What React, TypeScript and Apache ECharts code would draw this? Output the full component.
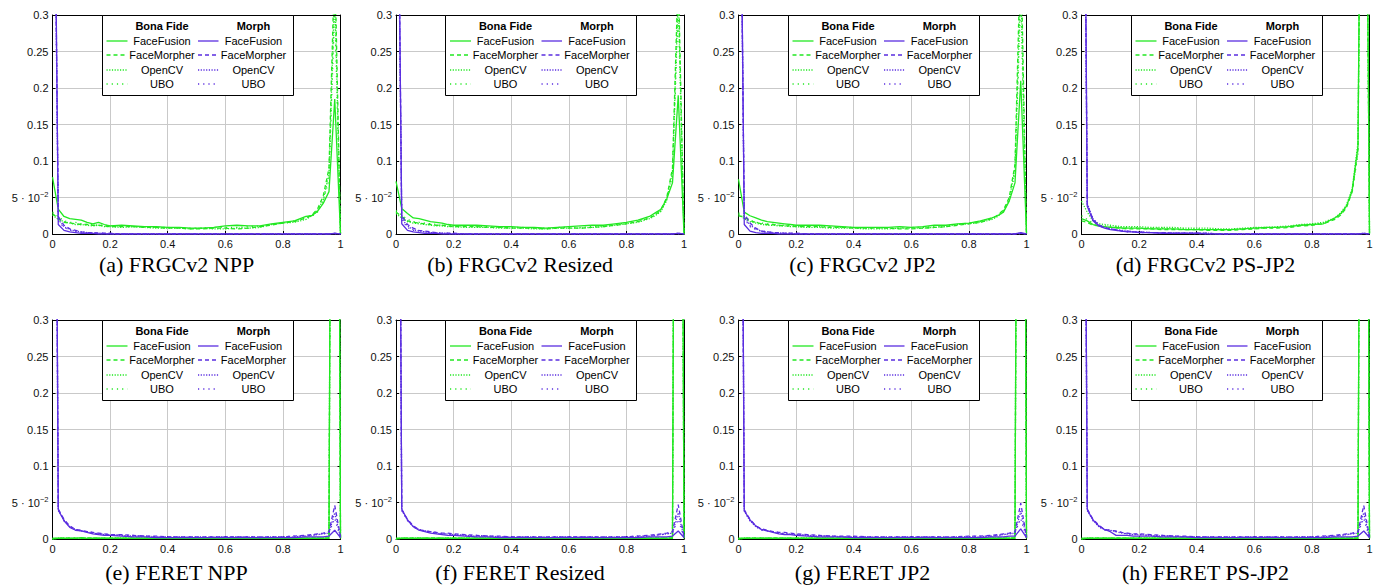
import React, { useEffect, useRef } from "react";
import * as echarts from "echarts";

// ---------- DATA ----------
const X = [
  0, 0.02, 0.04, 0.06, 0.08, 0.1, 0.12, 0.14, 0.16, 0.18,
  0.2, 0.24, 0.28, 0.32, 0.36, 0.4, 0.44, 0.48, 0.52, 0.56,
  0.6, 0.64, 0.68, 0.72, 0.76, 0.8, 0.84, 0.88, 0.9, 0.92,
  0.94, 0.96, 0.98, 1,
];

const CAPTIONS = [
  "(a) FRGCv2 NPP", "(b) FRGCv2 Resized", "(c) FRGCv2 JP2", "(d) FRGCv2 PS-JP2",
  "(e) FERET NPP", "(f) FERET Resized", "(g) FERET JP2", "(h) FERET PS-JP2",
];
const METHODS = ["FaceFusion", "FaceMorpher", "OpenCV", "UBO"];
const GROUPS = ["Bona Fide", "Morph"];
const X_TICKS = [0, 0.2, 0.4, 0.6, 0.8, 1];
const Y_TICKS = [0, 0.05, 0.1, 0.15, 0.2, 0.25, 0.3];

// (a) FRGCv2 NPP
const aBonaFusion = [
  0.078, 0.034, 0.024, 0.021, 0.020, 0.019, 0.016, 0.014, 0.016, 0.013,
  0.011, 0.012, 0.011, 0.010, 0.010, 0.009, 0.009, 0.008, 0.008, 0.009,
  0.011, 0.012, 0.011, 0.011, 0.014, 0.016, 0.018, 0.024, 0.025, 0.031,
  0.042, 0.058, 0.185, 0.000];
const aBonaMorpher = [
  0.028, 0.021, 0.016, 0.015, 0.014, 0.013, 0.013, 0.012, 0.012, 0.011,
  0.010, 0.010, 0.010, 0.009, 0.009, 0.008, 0.008, 0.007, 0.007, 0.008,
  0.008, 0.007, 0.008, 0.010, 0.012, 0.015, 0.017, 0.022, 0.026, 0.034,
  0.052, 0.090, 0.380, 0.000];
const aBonaOpenCV = [
  0.026, 0.020, 0.017, 0.015, 0.013, 0.013, 0.012, 0.011, 0.012, 0.010,
  0.010, 0.009, 0.010, 0.009, 0.008, 0.008, 0.008, 0.007, 0.008, 0.007,
  0.007, 0.008, 0.008, 0.009, 0.013, 0.015, 0.016, 0.020, 0.025, 0.032,
  0.047, 0.082, 0.340, 0.000];
const aBonaUBO = [
  0.030, 0.024, 0.018, 0.016, 0.016, 0.014, 0.013, 0.013, 0.012, 0.012,
  0.011, 0.011, 0.010, 0.010, 0.009, 0.009, 0.008, 0.008, 0.008, 0.009,
  0.009, 0.009, 0.010, 0.011, 0.013, 0.015, 0.018, 0.022, 0.024, 0.030,
  0.045, 0.075, 0.310, 0.000];
const aMorphFusion = [
  0.850, 0.013, 0.005, 0.003, 0.002, 0.001, 0.001, 0.001, 0.000, 0.000,
  0.000, 0.000, 0.000, 0.000, 0.000, 0.000, 0.000, 0.000, 0.000, 0.000,
  0.000, 0.000, 0.000, 0.000, 0.000, 0.000, 0.000, 0.000, 0.000, 0.000,
  0.000, 0.000, 0.001, 0.000];
const aMorphMorpher = [
  0.800, 0.024, 0.012, 0.007, 0.005, 0.003, 0.002, 0.002, 0.001, 0.001,
  0.001, 0.000, 0.000, 0.000, 0.000, 0.000, 0.000, 0.000, 0.000, 0.000,
  0.000, 0.000, 0.000, 0.000, 0.000, 0.000, 0.000, 0.000, 0.000, 0.000,
  0.000, 0.000, 0.001, 0.000];
const aMorphOpenCV = [
  0.760, 0.020, 0.010, 0.006, 0.004, 0.003, 0.002, 0.001, 0.001, 0.001,
  0.000, 0.000, 0.000, 0.000, 0.000, 0.000, 0.000, 0.000, 0.000, 0.000,
  0.000, 0.000, 0.000, 0.000, 0.000, 0.000, 0.000, 0.000, 0.000, 0.000,
  0.000, 0.000, 0.001, 0.000];
const aMorphUBO = [
  0.780, 0.018, 0.009, 0.005, 0.004, 0.002, 0.002, 0.001, 0.001, 0.000,
  0.000, 0.000, 0.000, 0.000, 0.000, 0.000, 0.000, 0.000, 0.000, 0.000,
  0.000, 0.000, 0.000, 0.000, 0.000, 0.000, 0.000, 0.000, 0.000, 0.000,
  0.000, 0.000, 0.000, 0.000];

// (b) FRGCv2 Resized
const bBonaFusion = [
  0.072, 0.035, 0.028, 0.022, 0.021, 0.019, 0.017, 0.016, 0.015, 0.013,
  0.012, 0.012, 0.012, 0.011, 0.010, 0.010, 0.009, 0.009, 0.008, 0.009,
  0.010, 0.011, 0.012, 0.012, 0.014, 0.016, 0.019, 0.024, 0.029, 0.034,
  0.048, 0.070, 0.190, 0.000];
const bBonaMorpher = [
  0.030, 0.024, 0.018, 0.016, 0.015, 0.014, 0.013, 0.012, 0.012, 0.011,
  0.010, 0.010, 0.010, 0.009, 0.009, 0.008, 0.008, 0.008, 0.007, 0.008,
  0.008, 0.008, 0.009, 0.010, 0.012, 0.014, 0.017, 0.022, 0.026, 0.033,
  0.050, 0.090, 0.360, 0.000];
const bBonaOpenCV = [
  0.028, 0.022, 0.017, 0.015, 0.014, 0.013, 0.012, 0.011, 0.011, 0.010,
  0.010, 0.009, 0.009, 0.009, 0.008, 0.008, 0.008, 0.007, 0.007, 0.008,
  0.008, 0.008, 0.009, 0.010, 0.012, 0.014, 0.016, 0.021, 0.025, 0.031,
  0.046, 0.085, 0.330, 0.000];
const bBonaUBO = [
  0.032, 0.026, 0.020, 0.017, 0.016, 0.015, 0.014, 0.013, 0.012, 0.012,
  0.011, 0.011, 0.010, 0.010, 0.009, 0.009, 0.009, 0.008, 0.008, 0.009,
  0.009, 0.009, 0.010, 0.011, 0.013, 0.015, 0.018, 0.023, 0.027, 0.032,
  0.047, 0.080, 0.310, 0.000];
const bMorphFusion = [
  0.820, 0.014, 0.005, 0.003, 0.002, 0.001, 0.001, 0.001, 0.000, 0.000,
  0.000, 0.000, 0.000, 0.000, 0.000, 0.000, 0.000, 0.000, 0.000, 0.000,
  0.000, 0.000, 0.000, 0.000, 0.000, 0.000, 0.000, 0.000, 0.000, 0.000,
  0.000, 0.000, 0.001, 0.000];
const bMorphMorpher = [
  0.780, 0.025, 0.013, 0.008, 0.005, 0.004, 0.003, 0.002, 0.001, 0.001,
  0.001, 0.000, 0.000, 0.000, 0.000, 0.000, 0.000, 0.000, 0.000, 0.000,
  0.000, 0.000, 0.000, 0.000, 0.000, 0.000, 0.000, 0.000, 0.000, 0.000,
  0.000, 0.000, 0.001, 0.000];
const bMorphOpenCV = [
  0.740, 0.021, 0.011, 0.006, 0.004, 0.003, 0.002, 0.002, 0.001, 0.001,
  0.000, 0.000, 0.000, 0.000, 0.000, 0.000, 0.000, 0.000, 0.000, 0.000,
  0.000, 0.000, 0.000, 0.000, 0.000, 0.000, 0.000, 0.000, 0.000, 0.000,
  0.000, 0.000, 0.001, 0.000];
const bMorphUBO = [
  0.760, 0.019, 0.009, 0.005, 0.004, 0.003, 0.002, 0.001, 0.001, 0.000,
  0.000, 0.000, 0.000, 0.000, 0.000, 0.000, 0.000, 0.000, 0.000, 0.000,
  0.000, 0.000, 0.000, 0.000, 0.000, 0.000, 0.000, 0.000, 0.000, 0.000,
  0.000, 0.000, 0.000, 0.000];

// (c) FRGCv2 JP2
const cBonaFusion = [
  0.075, 0.030, 0.025, 0.022, 0.019, 0.017, 0.016, 0.015, 0.014, 0.013,
  0.012, 0.012, 0.012, 0.011, 0.010, 0.009, 0.009, 0.009, 0.009, 0.010,
  0.009, 0.010, 0.012, 0.012, 0.014, 0.015, 0.018, 0.022, 0.025, 0.030,
  0.045, 0.070, 0.210, 0.000];
const cBonaMorpher = [
  0.025, 0.023, 0.018, 0.016, 0.014, 0.013, 0.013, 0.012, 0.011, 0.011,
  0.010, 0.010, 0.010, 0.009, 0.009, 0.008, 0.008, 0.008, 0.008, 0.007,
  0.007, 0.008, 0.009, 0.010, 0.012, 0.014, 0.016, 0.021, 0.026, 0.033,
  0.050, 0.095, 0.400, 0.000];
const cBonaOpenCV = [
  0.027, 0.021, 0.017, 0.015, 0.013, 0.012, 0.012, 0.011, 0.011, 0.010,
  0.010, 0.009, 0.009, 0.008, 0.008, 0.008, 0.007, 0.007, 0.007, 0.008,
  0.008, 0.008, 0.009, 0.010, 0.013, 0.014, 0.016, 0.020, 0.024, 0.031,
  0.047, 0.090, 0.350, 0.000];
const cBonaUBO = [
  0.029, 0.024, 0.019, 0.016, 0.015, 0.014, 0.013, 0.012, 0.012, 0.011,
  0.011, 0.010, 0.010, 0.010, 0.009, 0.009, 0.008, 0.008, 0.008, 0.008,
  0.009, 0.009, 0.010, 0.011, 0.013, 0.015, 0.017, 0.022, 0.025, 0.032,
  0.046, 0.085, 0.320, 0.000];
const cMorphFusion = [
  0.830, 0.013, 0.004, 0.002, 0.001, 0.001, 0.001, 0.000, 0.000, 0.000,
  0.000, 0.000, 0.000, 0.000, 0.000, 0.000, 0.000, 0.000, 0.000, 0.000,
  0.000, 0.000, 0.000, 0.000, 0.000, 0.000, 0.000, 0.000, 0.000, 0.000,
  0.000, 0.000, 0.002, 0.000];
const cMorphMorpher = [
  0.790, 0.028, 0.015, 0.008, 0.004, 0.003, 0.002, 0.002, 0.001, 0.001,
  0.001, 0.000, 0.000, 0.000, 0.000, 0.000, 0.000, 0.000, 0.000, 0.000,
  0.000, 0.000, 0.000, 0.000, 0.000, 0.000, 0.000, 0.000, 0.000, 0.000,
  0.000, 0.000, 0.001, 0.000];
const cMorphOpenCV = [
  0.750, 0.024, 0.012, 0.007, 0.004, 0.003, 0.002, 0.001, 0.001, 0.001,
  0.000, 0.000, 0.000, 0.000, 0.000, 0.000, 0.000, 0.000, 0.000, 0.000,
  0.000, 0.000, 0.000, 0.000, 0.000, 0.000, 0.000, 0.000, 0.000, 0.000,
  0.000, 0.000, 0.001, 0.000];
const cMorphUBO = [
  0.770, 0.021, 0.010, 0.006, 0.004, 0.002, 0.002, 0.001, 0.001, 0.000,
  0.000, 0.000, 0.000, 0.000, 0.000, 0.000, 0.000, 0.000, 0.000, 0.000,
  0.000, 0.000, 0.000, 0.000, 0.000, 0.000, 0.000, 0.000, 0.000, 0.000,
  0.000, 0.000, 0.000, 0.000];

// (d) FRGCv2 PS-JP2
const dBonaFusion = [
  0.021, 0.018, 0.013, 0.011, 0.010, 0.009, 0.009, 0.008, 0.008, 0.008,
  0.008, 0.007, 0.007, 0.007, 0.006, 0.006, 0.006, 0.006, 0.006, 0.007,
  0.008, 0.009, 0.009, 0.010, 0.012, 0.013, 0.014, 0.022, 0.028, 0.038,
  0.060, 0.120, 1.100, 0.000];
const dBonaMorpher = [
  0.018, 0.016, 0.012, 0.011, 0.010, 0.009, 0.008, 0.008, 0.007, 0.007,
  0.007, 0.007, 0.006, 0.006, 0.006, 0.006, 0.005, 0.005, 0.005, 0.006,
  0.007, 0.008, 0.008, 0.009, 0.011, 0.012, 0.014, 0.020, 0.026, 0.036,
  0.058, 0.115, 1.000, 0.000];
const dBonaOpenCV = [
  0.045, 0.030, 0.018, 0.014, 0.013, 0.012, 0.011, 0.010, 0.010, 0.010,
  0.010, 0.009, 0.009, 0.009, 0.008, 0.008, 0.008, 0.007, 0.007, 0.008,
  0.009, 0.009, 0.010, 0.011, 0.013, 0.014, 0.016, 0.022, 0.029, 0.040,
  0.062, 0.125, 1.050, 0.000];
const dBonaUBO = [
  0.025, 0.020, 0.015, 0.012, 0.011, 0.010, 0.010, 0.009, 0.009, 0.009,
  0.008, 0.008, 0.008, 0.007, 0.007, 0.007, 0.006, 0.006, 0.006, 0.007,
  0.008, 0.008, 0.009, 0.010, 0.012, 0.013, 0.015, 0.021, 0.027, 0.037,
  0.058, 0.110, 1.000, 0.000];
const dMorphFusion = [
  1.200, 0.038, 0.018, 0.011, 0.008, 0.006, 0.005, 0.004, 0.003, 0.003,
  0.002, 0.002, 0.001, 0.001, 0.001, 0.001, 0.000, 0.000, 0.000, 0.000,
  0.000, 0.000, 0.000, 0.000, 0.000, 0.000, 0.000, 0.000, 0.000, 0.000,
  0.000, 0.000, 0.001, 0.000];
const dMorphMorpher = [
  1.100, 0.040, 0.020, 0.012, 0.009, 0.007, 0.006, 0.004, 0.004, 0.003,
  0.003, 0.002, 0.002, 0.001, 0.001, 0.001, 0.001, 0.000, 0.000, 0.000,
  0.000, 0.000, 0.000, 0.000, 0.000, 0.000, 0.000, 0.000, 0.000, 0.000,
  0.000, 0.000, 0.001, 0.000];
const dMorphOpenCV = [
  1.000, 0.042, 0.021, 0.013, 0.009, 0.007, 0.006, 0.005, 0.004, 0.003,
  0.003, 0.002, 0.002, 0.001, 0.001, 0.001, 0.001, 0.000, 0.000, 0.000,
  0.000, 0.000, 0.000, 0.000, 0.000, 0.000, 0.000, 0.000, 0.000, 0.000,
  0.000, 0.000, 0.001, 0.000];
const dMorphUBO = [
  1.050, 0.039, 0.019, 0.012, 0.008, 0.007, 0.005, 0.004, 0.003, 0.003,
  0.002, 0.002, 0.001, 0.001, 0.001, 0.000, 0.000, 0.000, 0.000, 0.000,
  0.000, 0.000, 0.000, 0.000, 0.000, 0.000, 0.000, 0.000, 0.000, 0.000,
  0.000, 0.000, 0.000, 0.000];

// (e) FERET NPP
const eBonaFusion = [
  0.001, 0.001, 0.001, 0.001, 0.001, 0.002, 0.001, 0.001, 0.001, 0.001,
  0.001, 0.001, 0.001, 0.001, 0.001, 0.001, 0.001, 0.001, 0.001, 0.001,
  0.001, 0.001, 0.001, 0.001, 0.001, 0.001, 0.001, 0.001, 0.001, 0.001,
  0.001, 0.002, 2.000, 0.001];
const eBonaMorpher = [
  0.000, 0.001, 0.001, 0.001, 0.001, 0.001, 0.001, 0.001, 0.001, 0.001,
  0.001, 0.001, 0.001, 0.001, 0.001, 0.001, 0.001, 0.001, 0.001, 0.001,
  0.001, 0.001, 0.001, 0.001, 0.001, 0.001, 0.001, 0.001, 0.001, 0.001,
  0.001, 0.001, 1.900, 0.001];
const eBonaOpenCV = [
  0.000, 0.001, 0.001, 0.001, 0.001, 0.001, 0.001, 0.001, 0.001, 0.001,
  0.001, 0.001, 0.001, 0.001, 0.001, 0.001, 0.001, 0.001, 0.001, 0.001,
  0.001, 0.001, 0.001, 0.001, 0.001, 0.001, 0.001, 0.001, 0.001, 0.001,
  0.001, 0.001, 1.950, 0.001];
const eBonaUBO = [
  0.000, 0.001, 0.001, 0.001, 0.001, 0.001, 0.001, 0.001, 0.001, 0.001,
  0.001, 0.001, 0.001, 0.001, 0.001, 0.001, 0.001, 0.001, 0.001, 0.001,
  0.001, 0.001, 0.001, 0.001, 0.001, 0.001, 0.001, 0.001, 0.001, 0.001,
  0.001, 0.001, 2.050, 0.001];
const eMorphFusion = [
  1.500, 0.040, 0.025, 0.016, 0.012, 0.011, 0.009, 0.007, 0.006, 0.005,
  0.005, 0.004, 0.003, 0.003, 0.002, 0.002, 0.002, 0.002, 0.002, 0.002,
  0.002, 0.002, 0.002, 0.002, 0.002, 0.002, 0.002, 0.003, 0.003, 0.003,
  0.003, 0.004, 0.012, 0.002];
const eMorphMorpher = [
  1.450, 0.041, 0.027, 0.018, 0.013, 0.012, 0.010, 0.009, 0.008, 0.007,
  0.006, 0.006, 0.005, 0.004, 0.004, 0.003, 0.003, 0.003, 0.003, 0.003,
  0.003, 0.003, 0.003, 0.003, 0.003, 0.003, 0.004, 0.005, 0.006, 0.007,
  0.008, 0.010, 0.046, 0.003];
const eMorphOpenCV = [
  1.400, 0.039, 0.026, 0.017, 0.013, 0.011, 0.010, 0.008, 0.007, 0.006,
  0.006, 0.005, 0.004, 0.004, 0.003, 0.003, 0.003, 0.003, 0.002, 0.003,
  0.003, 0.003, 0.003, 0.002, 0.003, 0.003, 0.003, 0.004, 0.005, 0.006,
  0.007, 0.008, 0.036, 0.002];
const eMorphUBO = [
  1.420, 0.040, 0.025, 0.017, 0.012, 0.011, 0.010, 0.009, 0.007, 0.007,
  0.006, 0.005, 0.005, 0.004, 0.003, 0.003, 0.003, 0.003, 0.003, 0.003,
  0.003, 0.003, 0.003, 0.003, 0.003, 0.003, 0.004, 0.004, 0.005, 0.006,
  0.007, 0.009, 0.028, 0.002];

// (f) FERET Resized
const fBonaFusion = [
  0.001, 0.001, 0.001, 0.001, 0.001, 0.001, 0.001, 0.001, 0.001, 0.001,
  0.001, 0.001, 0.001, 0.001, 0.001, 0.001, 0.001, 0.001, 0.001, 0.001,
  0.001, 0.001, 0.001, 0.001, 0.001, 0.001, 0.001, 0.001, 0.001, 0.001,
  0.001, 0.002, 2.000, 0.001];
const fBonaMorpher = [
  0.000, 0.001, 0.001, 0.001, 0.001, 0.001, 0.001, 0.001, 0.001, 0.001,
  0.001, 0.001, 0.001, 0.001, 0.001, 0.001, 0.001, 0.001, 0.001, 0.001,
  0.001, 0.001, 0.001, 0.001, 0.001, 0.001, 0.001, 0.001, 0.001, 0.001,
  0.001, 0.001, 1.900, 0.001];
const fBonaOpenCV = [
  0.000, 0.001, 0.001, 0.001, 0.001, 0.001, 0.001, 0.001, 0.001, 0.001,
  0.001, 0.001, 0.001, 0.001, 0.001, 0.001, 0.001, 0.001, 0.001, 0.001,
  0.001, 0.001, 0.001, 0.001, 0.001, 0.001, 0.001, 0.001, 0.001, 0.001,
  0.001, 0.001, 1.950, 0.001];
const fBonaUBO = [
  0.000, 0.001, 0.001, 0.001, 0.001, 0.001, 0.001, 0.001, 0.001, 0.001,
  0.001, 0.001, 0.001, 0.001, 0.001, 0.001, 0.001, 0.001, 0.001, 0.001,
  0.001, 0.001, 0.001, 0.001, 0.001, 0.001, 0.001, 0.001, 0.001, 0.001,
  0.001, 0.001, 2.050, 0.001];
const fMorphFusion = [
  1.500, 0.041, 0.026, 0.017, 0.012, 0.010, 0.008, 0.007, 0.006, 0.005,
  0.005, 0.004, 0.003, 0.003, 0.002, 0.002, 0.002, 0.002, 0.002, 0.002,
  0.002, 0.002, 0.002, 0.002, 0.002, 0.002, 0.002, 0.003, 0.003, 0.003,
  0.003, 0.004, 0.011, 0.002];
const fMorphMorpher = [
  1.450, 0.040, 0.027, 0.018, 0.013, 0.011, 0.010, 0.009, 0.008, 0.008,
  0.007, 0.006, 0.005, 0.004, 0.004, 0.003, 0.003, 0.003, 0.003, 0.003,
  0.003, 0.003, 0.003, 0.003, 0.003, 0.003, 0.004, 0.005, 0.006, 0.007,
  0.008, 0.010, 0.047, 0.003];
const fMorphOpenCV = [
  1.400, 0.039, 0.026, 0.017, 0.013, 0.011, 0.010, 0.008, 0.007, 0.007,
  0.006, 0.005, 0.004, 0.004, 0.003, 0.003, 0.003, 0.003, 0.002, 0.003,
  0.003, 0.003, 0.003, 0.002, 0.003, 0.003, 0.003, 0.004, 0.005, 0.006,
  0.007, 0.008, 0.036, 0.002];
const fMorphUBO = [
  1.420, 0.040, 0.025, 0.017, 0.012, 0.011, 0.010, 0.009, 0.007, 0.007,
  0.006, 0.005, 0.005, 0.004, 0.003, 0.003, 0.003, 0.003, 0.003, 0.003,
  0.003, 0.003, 0.003, 0.003, 0.003, 0.003, 0.004, 0.004, 0.005, 0.006,
  0.007, 0.009, 0.027, 0.002];

// (g) FERET JP2
const gBonaFusion = [
  0.001, 0.001, 0.001, 0.001, 0.001, 0.001, 0.001, 0.001, 0.001, 0.001,
  0.001, 0.001, 0.001, 0.001, 0.001, 0.001, 0.001, 0.001, 0.001, 0.001,
  0.001, 0.001, 0.001, 0.001, 0.001, 0.001, 0.001, 0.001, 0.001, 0.001,
  0.001, 0.002, 2.000, 0.001];
const gBonaMorpher = [
  0.000, 0.001, 0.001, 0.001, 0.001, 0.001, 0.001, 0.001, 0.001, 0.001,
  0.001, 0.001, 0.001, 0.001, 0.001, 0.001, 0.001, 0.001, 0.001, 0.001,
  0.001, 0.001, 0.001, 0.001, 0.001, 0.001, 0.001, 0.001, 0.001, 0.001,
  0.001, 0.001, 1.900, 0.001];
const gBonaOpenCV = [
  0.000, 0.001, 0.001, 0.001, 0.001, 0.001, 0.001, 0.001, 0.001, 0.001,
  0.001, 0.001, 0.001, 0.001, 0.001, 0.001, 0.001, 0.001, 0.001, 0.001,
  0.001, 0.001, 0.001, 0.001, 0.001, 0.001, 0.001, 0.001, 0.001, 0.001,
  0.001, 0.001, 1.950, 0.001];
const gBonaUBO = [
  0.000, 0.001, 0.001, 0.001, 0.001, 0.001, 0.001, 0.001, 0.001, 0.001,
  0.001, 0.001, 0.001, 0.001, 0.001, 0.001, 0.001, 0.001, 0.001, 0.001,
  0.001, 0.001, 0.001, 0.001, 0.001, 0.001, 0.001, 0.001, 0.001, 0.001,
  0.001, 0.001, 2.050, 0.001];
const gMorphFusion = [
  1.500, 0.039, 0.026, 0.018, 0.013, 0.011, 0.009, 0.007, 0.006, 0.006,
  0.005, 0.004, 0.003, 0.003, 0.003, 0.002, 0.002, 0.002, 0.002, 0.002,
  0.002, 0.002, 0.002, 0.002, 0.002, 0.002, 0.002, 0.003, 0.003, 0.003,
  0.004, 0.004, 0.014, 0.002];
const gMorphMorpher = [
  1.450, 0.040, 0.027, 0.018, 0.014, 0.012, 0.010, 0.009, 0.009, 0.008,
  0.007, 0.006, 0.005, 0.004, 0.004, 0.004, 0.003, 0.003, 0.003, 0.003,
  0.003, 0.003, 0.003, 0.003, 0.003, 0.004, 0.004, 0.005, 0.006, 0.007,
  0.008, 0.010, 0.049, 0.003];
const gMorphOpenCV = [
  1.400, 0.038, 0.025, 0.017, 0.013, 0.011, 0.010, 0.008, 0.007, 0.007,
  0.006, 0.005, 0.004, 0.004, 0.003, 0.003, 0.003, 0.003, 0.002, 0.003,
  0.003, 0.003, 0.003, 0.002, 0.003, 0.003, 0.003, 0.004, 0.005, 0.006,
  0.007, 0.008, 0.038, 0.002];
const gMorphUBO = [
  1.420, 0.039, 0.025, 0.017, 0.012, 0.011, 0.010, 0.009, 0.007, 0.007,
  0.006, 0.005, 0.005, 0.004, 0.003, 0.003, 0.003, 0.003, 0.003, 0.003,
  0.003, 0.003, 0.003, 0.003, 0.003, 0.003, 0.004, 0.004, 0.005, 0.006,
  0.007, 0.009, 0.028, 0.002];

// (h) FERET PS-JP2
const hBonaFusion = [
  0.001, 0.001, 0.001, 0.001, 0.001, 0.001, 0.001, 0.001, 0.001, 0.001,
  0.001, 0.001, 0.001, 0.001, 0.001, 0.001, 0.001, 0.001, 0.001, 0.001,
  0.001, 0.001, 0.001, 0.001, 0.001, 0.001, 0.001, 0.001, 0.001, 0.001,
  0.001, 0.002, 2.000, 0.001];
const hBonaMorpher = [
  0.000, 0.001, 0.001, 0.001, 0.001, 0.001, 0.001, 0.001, 0.001, 0.001,
  0.001, 0.001, 0.001, 0.001, 0.001, 0.001, 0.001, 0.001, 0.001, 0.001,
  0.001, 0.001, 0.001, 0.001, 0.001, 0.001, 0.001, 0.001, 0.001, 0.001,
  0.001, 0.001, 1.900, 0.001];
const hBonaOpenCV = [
  0.000, 0.001, 0.001, 0.001, 0.001, 0.001, 0.001, 0.001, 0.001, 0.001,
  0.001, 0.001, 0.001, 0.001, 0.001, 0.001, 0.001, 0.001, 0.001, 0.001,
  0.001, 0.001, 0.001, 0.001, 0.001, 0.001, 0.001, 0.001, 0.001, 0.001,
  0.001, 0.001, 1.950, 0.001];
const hBonaUBO = [
  0.000, 0.001, 0.001, 0.001, 0.001, 0.001, 0.001, 0.001, 0.001, 0.001,
  0.001, 0.001, 0.001, 0.001, 0.001, 0.001, 0.001, 0.001, 0.001, 0.001,
  0.001, 0.001, 0.001, 0.001, 0.001, 0.001, 0.001, 0.001, 0.001, 0.001,
  0.001, 0.001, 2.050, 0.001];
const hMorphFusion = [
  1.500, 0.040, 0.026, 0.018, 0.013, 0.010, 0.005, 0.005, 0.005, 0.004,
  0.004, 0.004, 0.003, 0.003, 0.003, 0.002, 0.002, 0.002, 0.002, 0.002,
  0.002, 0.002, 0.002, 0.002, 0.002, 0.002, 0.002, 0.003, 0.003, 0.003,
  0.003, 0.004, 0.011, 0.002];
const hMorphMorpher = [
  1.450, 0.041, 0.027, 0.019, 0.013, 0.012, 0.011, 0.009, 0.008, 0.007,
  0.007, 0.006, 0.005, 0.004, 0.004, 0.003, 0.003, 0.003, 0.003, 0.003,
  0.003, 0.003, 0.003, 0.003, 0.003, 0.003, 0.004, 0.005, 0.006, 0.007,
  0.008, 0.010, 0.046, 0.003];
const hMorphOpenCV = [
  1.400, 0.039, 0.026, 0.017, 0.013, 0.012, 0.010, 0.008, 0.007, 0.006,
  0.006, 0.005, 0.004, 0.004, 0.003, 0.003, 0.003, 0.003, 0.002, 0.003,
  0.003, 0.003, 0.003, 0.002, 0.003, 0.003, 0.003, 0.004, 0.005, 0.006,
  0.007, 0.008, 0.036, 0.002];
const hMorphUBO = [
  1.420, 0.040, 0.025, 0.017, 0.012, 0.011, 0.010, 0.009, 0.007, 0.007,
  0.006, 0.005, 0.005, 0.004, 0.003, 0.003, 0.003, 0.003, 0.003, 0.003,
  0.003, 0.003, 0.003, 0.003, 0.003, 0.003, 0.004, 0.004, 0.005, 0.006,
  0.007, 0.009, 0.028, 0.002];

const PANEL_DATA = [
  [[aBonaFusion, aBonaMorpher, aBonaOpenCV, aBonaUBO], [aMorphFusion, aMorphMorpher, aMorphOpenCV, aMorphUBO]],
  [[bBonaFusion, bBonaMorpher, bBonaOpenCV, bBonaUBO], [bMorphFusion, bMorphMorpher, bMorphOpenCV, bMorphUBO]],
  [[cBonaFusion, cBonaMorpher, cBonaOpenCV, cBonaUBO], [cMorphFusion, cMorphMorpher, cMorphOpenCV, cMorphUBO]],
  [[dBonaFusion, dBonaMorpher, dBonaOpenCV, dBonaUBO], [dMorphFusion, dMorphMorpher, dMorphOpenCV, dMorphUBO]],
  [[eBonaFusion, eBonaMorpher, eBonaOpenCV, eBonaUBO], [eMorphFusion, eMorphMorpher, eMorphOpenCV, eMorphUBO]],
  [[fBonaFusion, fBonaMorpher, fBonaOpenCV, fBonaUBO], [fMorphFusion, fMorphMorpher, fMorphOpenCV, fMorphUBO]],
  [[gBonaFusion, gBonaMorpher, gBonaOpenCV, gBonaUBO], [gMorphFusion, gMorphMorpher, gMorphOpenCV, gMorphUBO]],
  [[hBonaFusion, hBonaMorpher, hBonaOpenCV, hBonaUBO], [hMorphFusion, hMorphMorpher, hMorphOpenCV, hMorphUBO]],
];

// ---------- STYLE / LAYOUT ----------
const COLORS = ["#22e822", "#5a2ee0"];
const DASHES: any[] = [null, [4, 3], [1.2, 1.5], [1.2, 4]];
const PLOT_LEFTS = [52.5, 396, 738.5, 1081.5];
const PLOT_TOPS = [15, 320];
const PLOT_W = 288;
const PLOT_H = 219;
const CAPTION_Y = [264, 572];
const SANS = '"Liberation Sans", Arial, sans-serif';
const SERIF = '"Liberation Serif", "Times New Roman", serif';
const FS = 11;
const LW = 1.3;

function fmtY(v: number) {
  const r = Math.round(v * 100) / 100;
  if (r === 0) return "0";
  if (Math.abs(r - 0.05) < 1e-9) return "5 · 10{sup|−2}";
  return String(r);
}
function fmtX(v: number) {
  return String(Math.round(v * 10) / 10);
}

function buildOption() {
  const grid: any[] = [];
  const xAxis: any[] = [];
  const yAxis: any[] = [];
  const series: any[] = [];
  const graphic: any[] = [];
  const n = PANEL_DATA.length;

  for (let p = 0; p < n; p++) {
    const L = PLOT_LEFTS[p % 4];
    const T = PLOT_TOPS[Math.floor(p / 4)];
    grid.push({ left: L, top: T, width: PLOT_W, height: PLOT_H, containLabel: false });
  }
  const tick = { show: true, inside: true, length: 3, lineStyle: { color: "#000", width: 1 } };
  const line = { show: true, onZero: false, lineStyle: { color: "#000", width: 1 } };
  const split = { show: true, lineStyle: { color: "#c9c9c9", width: 1 } };
  for (let p = 0; p < n; p++) {
    xAxis.push({
      type: "value", gridIndex: p, min: X_TICKS[0], max: X_TICKS[X_TICKS.length - 1], interval: 0.2,
      position: "bottom", axisLine: line, axisTick: tick, splitLine: split,
      axisLabel: { margin: 4, fontSize: FS, fontFamily: SANS, color: "#111", formatter: fmtX, showMinLabel: true, showMaxLabel: true },
    });
    yAxis.push({
      type: "value", gridIndex: p, min: Y_TICKS[0], max: Y_TICKS[Y_TICKS.length - 1], interval: 0.05,
      position: "left", axisLine: line, axisTick: tick, splitLine: split,
      axisLabel: {
        margin: 4, fontSize: FS, fontFamily: SANS, color: "#111", formatter: fmtY, lineHeight: 14,
        showMinLabel: true, showMaxLabel: true,
        rich: { sup: { fontSize: 7.5, lineHeight: 8, verticalAlign: "top", fontFamily: SANS, color: "#111" } },
      },
    });
  }
  for (let p = 0; p < n; p++) {
    xAxis.push({
      type: "value", gridIndex: p, min: 0, max: 1, interval: 0.2, position: "top",
      axisLine: line, axisTick: tick, splitLine: { show: false }, axisLabel: { show: false },
    });
    yAxis.push({
      type: "value", gridIndex: p, min: 0, max: 0.3, interval: 0.05, position: "right",
      axisLine: line, axisTick: tick, splitLine: { show: false }, axisLabel: { show: false },
    });
  }

  for (let p = 0; p < n; p++) {
    for (let g = 0; g < 2; g++) {
      for (let m = 0; m < 4; m++) {
        const arr = PANEL_DATA[p][g][m];
        series.push({
          type: "line",
          name: `${CAPTIONS[p]} ${GROUPS[g]} ${METHODS[m]}`,
          xAxisIndex: p, yAxisIndex: p,
          data: X.map((x, i) => [x, arr[i]]),
          showSymbol: false, symbol: "none", silent: true, clip: true,
          color: COLORS[g],
          lineStyle: { color: COLORS[g], width: LW, type: DASHES[m] ? DASHES[m] : "solid", opacity: 1 },
          emphasis: { disabled: true },
          z: 2 + g,
        });
      }
    }
  }

  // legends and captions
  for (let p = 0; p < n; p++) {
    const L = PLOT_LEFTS[p % 4];
    const T = PLOT_TOPS[Math.floor(p / 4)];
    const bx = Math.round(L + 49) + 0.5;
    graphic.push({
      type: "rect", z: 100,
      shape: { x: bx, y: T + 0.5, width: 191, height: 80 },
      style: { fill: "#fff", stroke: "#000", lineWidth: 1 },
    });
    const colText = [L + 109.5, L + 201];
    const colLine = [[L + 54, L + 75], [L + 145.5, L + 166]];
    for (let g = 0; g < 2; g++) {
      graphic.push({
        type: "text", z: 101, x: colText[g], y: T + 10.5,
        style: { text: GROUPS[g], fill: "#000", font: `bold ${FS}px ${SANS}`, align: "center", verticalAlign: "middle" },
      });
      for (let m = 0; m < 4; m++) {
        const yy = T + 25.5 + m * 14.6;
        const ly = Math.round(yy);
        const st: any = { stroke: COLORS[g], lineWidth: LW, fill: "none" };
        if (DASHES[m]) st.lineDash = DASHES[m];
        graphic.push({
          type: "line", z: 101,
          shape: { x1: colLine[g][0], y1: ly, x2: colLine[g][1], y2: ly },
          style: st,
        });
        graphic.push({
          type: "text", z: 101, x: colText[g], y: yy,
          style: { text: METHODS[m], fill: "#000", font: `${FS}px ${SANS}`, align: "center", verticalAlign: "middle" },
        });
      }
    }
    graphic.push({
      type: "text", z: 101, x: L + PLOT_W / 2 - 20, y: CAPTION_Y[Math.floor(p / 4)],
      style: { text: CAPTIONS[p], fill: "#000", font: `22px ${SERIF}`, align: "center", verticalAlign: "middle" },
    });
  }

  return {
    animation: false,
    backgroundColor: "#fff",
    grid, xAxis, yAxis, series, graphic,
  };
}

export default function App() {
  const ref = useRef<HTMLDivElement>(null);
  useEffect(() => {
    if (!ref.current) return;
    const chart = echarts.init(ref.current, null, { renderer: "svg" });
    chart.setOption(buildOption() as any);
    return () => chart.dispose();
  }, []);
  return (
    <div
      ref={ref}
      style={{ position: "fixed", left: 0, top: 0, width: 1380, height: 585, background: "#fff" }}
    />
  );
}
